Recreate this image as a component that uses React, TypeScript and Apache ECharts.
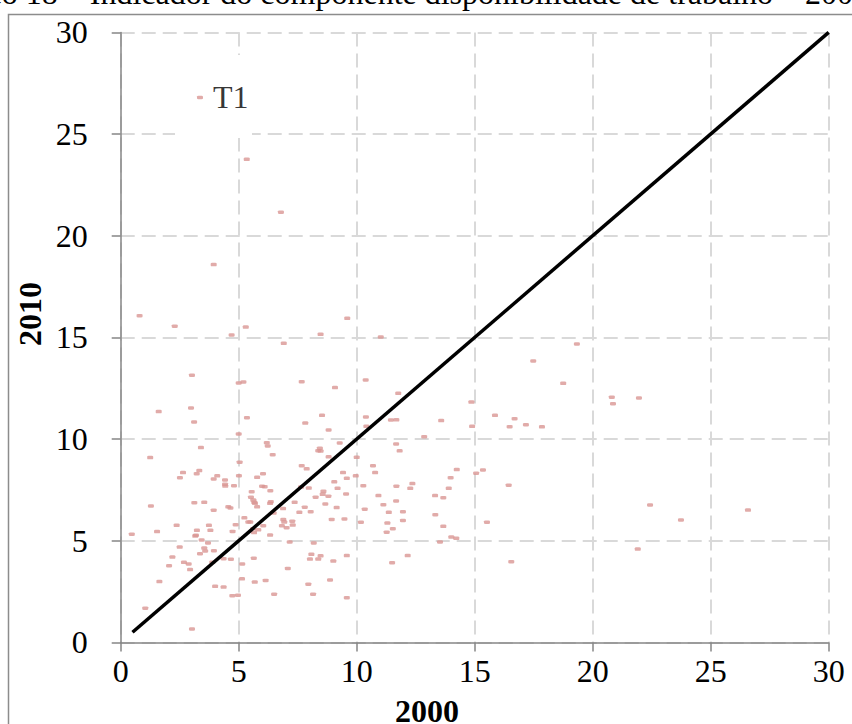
import React, { useEffect, useRef } from "react";
import * as echarts from "echarts";

const x2000 = [
  3.36, 5.34, 6.79, 3.94, 0.8, 2.29, 4.7, 5.3, 6.91, 8.47, 9.6, 3.02, 5.0, 5.2, 7.67, 9.08, 1.61, 2.98, 3.11, 5.35,
  7.82, 8.53, 8.81, 5.0, 6.19, 6.23, 9.28, 1.25, 3.4, 6.44, 8.44, 8.47, 8.37, 8.81, 5.04, 7.67, 7.88, 9.42, 2.64, 2.51,
  3.33, 3.22, 4.09, 3.94, 4.42, 5.01, 5.78, 6.03, 9.58, 10.0, 10.69, 10.78, 11.82, 9.96, 0.47, 1.28, 1.54, 1.64, 1.04, 3.02,
  2.05, 2.19, 2.5, 2.37, 2.68, 2.88, 2.94, 3.12, 3.54, 3.23, 3.19, 3.16, 4.42, 4.43, 4.8, 3.94, 3.74, 3.8, 3.43, 3.7,
  3.54, 3.58, 3.36, 3.95, 4.56, 4.65, 4.87, 4.74, 4.36, 4.67, 3.88, 4.0, 4.36, 4.73, 4.97, 5.55, 5.52, 5.62, 5.66, 5.69,
  5.99, 6.1, 6.34, 5.78, 5.24, 5.41, 5.49, 5.61, 5.65, 5.83, 6.04, 6.33, 6.33, 6.36, 6.48, 6.88, 6.89, 6.93, 6.83, 7.03,
  7.27, 7.29, 7.16, 5.15, 5.14, 5.64, 5.68, 6.14, 6.5, 7.08, 7.37, 7.57, 7.8, 8.05, 7.64, 7.97, 8.26, 8.59, 8.56, 8.8,
  8.67, 9.19, 9.05, 9.55, 9.15, 8.94, 9.48, 8.18, 8.08, 8.47, 8.02, 8.37, 9.01, 9.58, 7.95, 8.15, 8.87, 9.58, 10.18, 10.34,
  10.28, 10.92, 11.13, 11.36, 11.3, 11.53, 11.27, 11.68, 11.67, 11.5, 11.02, 19.33, 17.48, 18.75, 10.38, 11.76, 14.86, 10.39, 10.41, 11.45,
  11.68, 13.58, 14.89, 15.86, 16.69, 16.48, 17.17, 17.85, 12.86, 11.67, 12.36, 12.27, 11.96, 11.96, 14.24, 13.98, 13.9, 13.32, 13.67, 13.33,
  13.67, 13.53, 14.01, 14.22, 15.06, 15.35, 16.44, 15.52, 16.55, 12.16, 20.81, 20.86, 21.96, 22.43, 23.74, 26.58, 21.91,
];
const y2010 = [
  26.8, 23.76, 21.16, 18.58, 16.07, 15.55, 15.12, 15.51, 14.71, 15.15, 15.94, 13.14, 12.76, 12.81, 12.82, 12.53, 11.35, 11.53, 10.84, 11.05,
  10.79, 11.17, 10.45, 10.25, 9.82, 9.66, 9.81, 9.09, 9.58, 9.23, 9.55, 9.41, 9.43, 9.13, 8.86, 8.69, 8.54, 8.35, 8.35, 8.1,
  8.45, 8.3, 8.19, 8.04, 7.99, 8.2, 8.12, 8.3, 8.07, 9.1, 8.69, 8.35, 9.42, 8.19, 5.32, 6.71, 5.45, 2.99, 1.68, 0.66,
  3.77, 4.2, 4.69, 5.76, 3.94, 3.86, 3.58, 6.87, 6.89, 5.51, 5.27, 5.23, 7.78, 7.69, 7.71, 6.5, 5.76, 5.51, 5.04, 4.89,
  4.64, 4.5, 4.36, 4.51, 6.67, 6.61, 5.79, 5.46, 4.12, 4.09, 3.94, 2.76, 2.72, 2.3, 2.32, 7.41, 7.14, 7.0, 6.89, 6.84,
  7.68, 7.66, 7.46, 6.67, 6.13, 5.92, 5.92, 5.59, 5.4, 5.54, 5.74, 5.28, 6.84, 6.92, 6.36, 6.58, 6.04, 5.92, 5.74, 5.64,
  5.96, 5.77, 4.94, 3.86, 3.13, 4.14, 2.97, 3.05, 2.37, 3.64, 6.89, 6.4, 6.65, 6.43, 7.64, 7.59, 7.14, 7.43, 7.28, 7.19,
  6.81, 7.58, 7.9, 7.3, 6.63, 6.05, 6.07, 4.89, 4.33, 4.26, 4.1, 4.1, 4.0, 4.27, 2.86, 2.37, 3.07, 2.2, 5.91, 6.55,
  7.71, 7.22, 6.77, 6.4, 5.87, 5.59, 5.42, 7.68, 6.96, 3.92, 15.02, 14.68, 13.84, 12.74, 12.91, 12.25, 11.82, 11.09, 10.63, 10.94,
  10.95, 10.91, 10.63, 11.17, 11.0, 10.61, 10.71, 10.6, 10.12, 9.76, 7.81, 7.58, 6.43, 6.0, 8.5, 8.1, 7.58, 7.22, 7.12, 6.28,
  5.71, 4.94, 5.18, 5.12, 8.32, 8.48, 7.73, 5.91, 3.97, 4.27, 12.06, 11.74, 12.02, 6.76, 6.02, 6.51, 4.59,
];
const pointLabels = ["T1"];
const refLineX = [0.5, 30];
const refLineY = [0.5, 30];
const xTicks = [0, 5, 10, 15, 20, 25, 30];
const yTicks = [0, 5, 10, 15, 20, 25, 30];

const FONT = "Liberation Serif";

export default function App() {
  const ref = useRef<HTMLDivElement>(null);
  useEffect(() => {
    if (!ref.current) return;
    const chart = echarts.init(ref.current, null, { renderer: "svg" });
    const pts = x2000.map((x, i) => {
      const item: any = { value: [x, y2010[i]] };
      if (i < pointLabels.length) {
        item.label = {
          show: true,
          formatter: pointLabels[i],
          position: "right",
          distance: 10,
          fontSize: 32,
          fontFamily: FONT,
          color: "#000",
        };
      }
      return item;
    });
    const axisCommon = {
      type: "value",
      min: xTicks[0],
      max: xTicks[xTicks.length - 1],
      interval: 5,
      axisLine: { show: true, onZero: false, lineStyle: { color: "#868686", width: 1.5 } },
      axisTick: { show: true, inside: false, length: 9, lineStyle: { color: "#868686", width: 1.5 } },
      splitLine: { show: true, lineStyle: { color: "#d9d9d9", width: 2, type: [14, 7] } },
      axisLabel: { fontSize: 32, fontFamily: FONT, color: "#000" },
    };
    chart.setOption({
      animation: false,
      backgroundColor: "#fff",
      grid: { left: 120.7, top: 32.4, width: 708, height: 610, containLabel: false },
      xAxis: { ...axisCommon, axisLabel: { ...axisCommon.axisLabel, margin: 13 } },
      yAxis: {
        ...axisCommon,
        min: yTicks[0],
        max: yTicks[yTicks.length - 1],
        axisLabel: { ...axisCommon.axisLabel, margin: 33 },
      },
      graphic: [
        {
          type: "rect",
          z: 1,
          shape: { x: 8.5, y: 14.5, width: 1000, height: 1000 },
          style: { fill: "none", stroke: "#8c8c8c", lineWidth: 1.5 },
          silent: true,
        },
        {
          type: "rect",
          z: 1,
          shape: { x: 175, y: 55, width: 77, height: 83 },
          style: { fill: "#fff" },
          silent: true,
        },
        {
          type: "text",
          z: 5,
          x: -80,
          y: 8.5,
          style: {
            text: "Gráfico 18 – Indicador do componente disponibilidade de trabalho – 2000/2010",
            fontSize: 32,
            fontFamily: FONT,
            fill: "#000",
            textVerticalAlign: "bottom",
          },
        },
        {
          type: "text",
          z: 5,
          x: 427,
          y: 711,
          style: {
            text: "2000",
            fontSize: 32,
            fontWeight: "bold",
            fontFamily: FONT,
            fill: "#000",
            textAlign: "center",
            textVerticalAlign: "middle",
          },
        },
        {
          type: "text",
          z: 5,
          x: 30,
          y: 314,
          rotation: Math.PI / 2,
          style: {
            text: "2010",
            fontSize: 32,
            fontWeight: "bold",
            fontFamily: FONT,
            fill: "#000",
            textAlign: "center",
            textVerticalAlign: "middle",
          },
        },
      ],
      series: [
        {
          type: "scatter",
          z: 2,
          symbol: "roundRect",
          symbolSize: [6, 3.5],
          itemStyle: { color: "#d99694" },
          data: pts,
        },
        {
          type: "line",
          z: 3,
          symbol: "none",
          lineStyle: { color: "#000", width: 3.5 },
          data: refLineX.map((x, i) => [x, refLineY[i]]),
        },
      ],
    });
    return () => chart.dispose();
  }, []);
  return (
    <div
      ref={ref}
      style={{ position: "fixed", left: 0, top: 0, width: 852, height: 724, background: "#fff" }}
    />
  );
}
